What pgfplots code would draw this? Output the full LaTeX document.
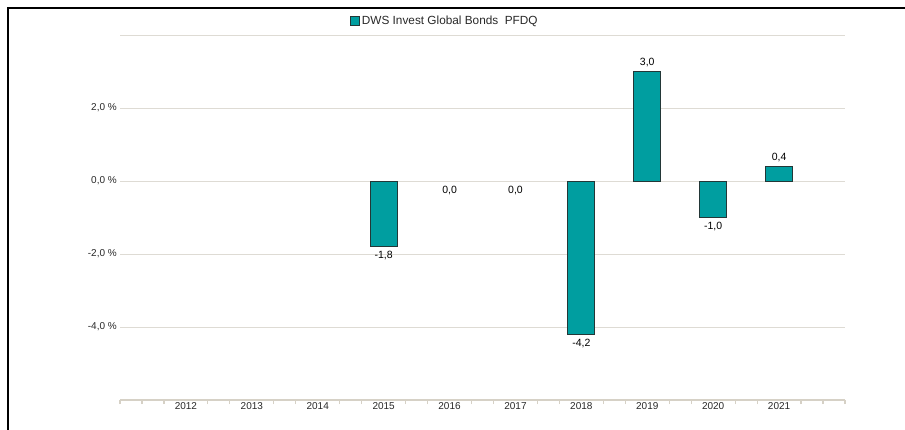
\documentclass[border=0pt]{standalone}
\usepackage{pgfplots}
\pgfplotsset{compat=1.18}
\usepackage{fontspec}
\setmainfont{Liberation Sans}
\definecolor{teal1}{RGB}{0,158,160}
\definecolor{bord}{RGB}{35,55,55}
\definecolor{gridc}{RGB}{222,219,212}
\definecolor{axc}{RGB}{214,209,198}
\definecolor{txt}{RGB}{40,40,40}
\newcommand{\fs}{\fontsize{10bp}{12bp}\selectfont}
\newcommand{\fb}{\fontsize{10.5bp}{12bp}\selectfont}
\begin{document}
\begin{tikzpicture}
\useasboundingbox (0,0) rectangle (905bp,430bp);
\draw[black, line width=1.6bp] (8bp,0) -- (8bp,422bp) -- (905bp,422bp);
\begin{axis}[
  at={(120bp,30bp)}, anchor=south west,
  scale only axis, width=725bp, height=365bp,
  xmin=-1, xmax=10, ymin=-6, ymax=4,
  axis x line*=bottom, axis y line*=left,
  x axis line style={draw=axc, line width=2bp},
  y axis line style={draw=none},
  /pgf/number format/assume math mode=true,
  xtick={0,1,2,3,4,5,6,7,8,9},
  xticklabels={2012,2013,2014,2015,2016,2017,2018,2019,2020,2021},
  minor xtick={-1,-0.6667,-0.3333,0.3333,0.6667,1.3333,1.6667,2.3333,2.6667,3.3333,3.6667,4.3333,4.6667,5.3333,5.6667,6.3333,6.6667,7.3333,7.6667,8.3333,8.6667,9.3333,9.6667,10},
  major tick length=0pt, minor tick length=4bp, tick align=outside,
  minor x tick style={draw=axc, line width=1.2bp},
  major x tick style={draw=none},
  ytick={-4,-2,0,2,4},
  yticklabels={{-4,0 \%},{-2,0 \%},{0,0 \%},{2,0 \%},{}},
  ytick style={draw=none},
  ymajorgrids, major grid style={draw=gridc, line width=1bp},
  tick label style={font=\fs, text=txt},
  xticklabel style={inner sep=0pt, yshift=-2bp},
  yticklabel style={inner sep=0pt, anchor=east, xshift=-3bp},
  legend style={at={(0.317,1)}, anchor=west, yshift=14bp, draw=none, fill=none,
    font=\fontsize{11.8bp}{13bp}\selectfont, text=txt, inner sep=0pt},
  legend image code/.code={\draw[#1] (0bp,-4.5bp) rectangle (9bp,4.5bp);},
]
\addplot[ybar, bar width=27bp, bar shift=0pt, fill=teal1, draw=bord, line width=0.9bp,
  nodes near coords={\pgfmathprintnumber[fixed,fixed zerofill,precision=1,use comma]{\pgfplotspointmeta}},
  nodes near coords align=vertical,
  every node near coord/.append style={font=\fb, text=black, inner sep=4.5bp}]
  coordinates {(3,-1.8) (6,-4.2) (7,3.0) (8,-1.0) (9,0.4)};
\addlegendentry{DWS Invest Global Bonds\ \ PFDQ}
\addplot[ybar, bar width=27bp, bar shift=0pt, draw=none, fill=none, forget plot,
  nodes near coords={\pgfmathprintnumber[fixed,fixed zerofill,precision=1,use comma]{\pgfplotspointmeta}},
  every node near coord/.append style={font=\fb, text=black, inner sep=5bp, anchor=north}]
  coordinates {(4,0) (5,0)};
\end{axis}
\end{tikzpicture}
\end{document}
